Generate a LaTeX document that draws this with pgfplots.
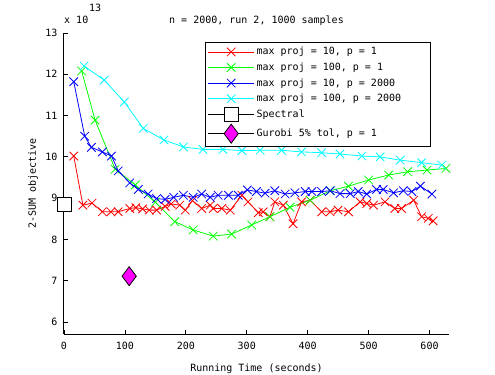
\documentclass[border=0pt]{standalone}
\usepackage{fontspec}
\setmainfont{DejaVu Sans Mono}
\usepackage{pgfplots}
\pgfplotsset{compat=1.18}

\definecolor{mred}{RGB}{255,0,0}
\definecolor{mgreen}{RGB}{0,255,0}
\definecolor{mblue}{RGB}{0,0,255}
\definecolor{mcyan}{RGB}{0,255,255}
\definecolor{mmagenta}{RGB}{255,0,255}

\newcommand\legtext[1]{\makebox[170bp][l]{#1}}

\begin{document}
\begin{tikzpicture}
\begin{axis}[
    name=ax,
    scale only axis,
    width=385bp, height=301bp,
    xmin=0, xmax=632, ymin=5.71, ymax=13,
    axis x line*=bottom, axis y line*=left,
    x axis line style={-}, y axis line style={-},
    axis line style={line width=1bp},
    xtick={0,100,...,600}, ytick={6,...,13},
    tick align=inside, major tick length=4bp,
    tick style={line width=0.8bp, black},
    font=\fontsize{10bp}{12bp}\selectfont,
    /pgf/number format/assume math mode=true,
    scaled y ticks=false,
    yticklabel style={xshift=-3bp},
    xticklabel style={yshift=-5bp},
    xlabel={Running Time (seconds)},
    ylabel={2-SUM objective},
    xlabel style={at={([yshift=-35bp]rel axis cs:0.5,0)}, anchor=center},
    ylabel style={at={([xshift=-31bp]rel axis cs:0,0.5)}, anchor=center},
    title={n = 2000, run 2, 1000 samples},
    every axis title shift=0pt,
    title style={at={([yshift=12bp]rel axis cs:0.5,1)}, anchor=center},
    clip=false,
    every axis plot/.append style={line width=0.8bp},
    legend cell align=left,
    legend style={at={(rel axis cs:1,1)}, anchor=north east,
        xshift=-18bp, yshift=-9bp, draw=black, line width=0.8bp,
        row sep=2.5bp, inner xsep=2bp, inner ysep=3bp},
    legend image code/.code={
        \draw[mark repeat=2, mark phase=2] plot coordinates {(0bp,0bp) (23bp,0bp) (46bp,0bp)};},
]
% max proj = 10, p = 1
\addplot[mred, mark=x, mark size=6bp] coordinates {
(16,10.02) (31,8.83) (46,8.88) (63,8.67) (77,8.67) (89,8.67) (108,8.75) (118,8.77)
(129,8.74) (140,8.71) (152,8.71) (166,8.80) (176,8.86) (190,8.83) (199,8.71) (211,8.94)
(226,8.75) (240,8.83) (245,8.75) (259,8.75) (273,8.71) (292,9.07) (302,8.91) (319,8.65)
(327,8.67) (338,8.55) (346,8.91) (360,8.83) (376,8.38) (390,8.91) (404,8.95) (423,8.67)
(437,8.67) (450,8.71) (467,8.67) (486,8.91) (497,8.87) (508,8.83) (527,8.91) (543,8.75)
(554,8.75) (574,8.95) (587,8.55) (598,8.51) (606,8.45)
};
\addlegendentry{\legtext{max proj = 10, p = 1}}
% max proj = 100, p = 1
\addplot[mgreen, mark=x, mark size=6bp] coordinates {
(29,12.08) (51,10.89) (84,9.70) (117,9.32) (150,8.90) (182,8.43) (212,8.23) (245,8.08)
(275,8.13) (308,8.35) (338,8.55) (371,8.78) (404,8.95) (437,9.18) (467,9.29) (500,9.44)
(533,9.56) (564,9.64) (596,9.68) (627,9.72)
};
\addlegendentry{\legtext{max proj = 100, p = 1}}
% max proj = 10, p = 2000
\addplot[mblue, mark=x, mark size=6bp] coordinates {
(16,11.82) (34,10.50) (45,10.23) (63,10.12) (78,10.02) (89,9.66) (108,9.37) (122,9.21)
(138,9.10) (152,8.99) (166,8.97) (180,9.02) (196,9.07) (212,9.02) (226,9.10) (240,9.02)
(253,9.07) (270,9.07) (286,9.07) (301,9.20) (316,9.16) (330,9.12) (346,9.18) (363,9.10)
(379,9.13) (396,9.16) (407,9.16) (423,9.16) (437,9.18) (453,9.11) (470,9.11) (483,9.16)
(497,9.10) (513,9.21) (524,9.21) (541,9.13) (557,9.18) (571,9.16) (585,9.29) (604,9.10)
};
\addlegendentry{\legtext{max proj = 10, p = 2000}}
% max proj = 100, p = 2000
\addplot[mcyan, mark=x, mark size=6bp] coordinates {
(33,12.20) (66,11.86) (99,11.33) (130,10.69) (164,10.41) (196,10.24) (228,10.18) (261,10.18)
(292,10.15) (322,10.16) (357,10.16) (390,10.12) (423,10.10) (453,10.07) (489,10.02) (519,10.00)
(552,9.92) (587,9.86) (620,9.80)
};
\addlegendentry{\legtext{max proj = 100, p = 2000}}
% Spectral
\addplot[black, mark=square*, mark size=7bp, mark options={fill=white, draw=black}] coordinates {(0,8.86)};
\addlegendentry{\legtext{Spectral}}
% Gurobi
\addplot[black, mark=diamond*, mark size=9.5bp, mark options={fill=mmagenta, draw=black}] coordinates {(107,7.11)};
\addlegendentry{\legtext{Gurobi 5\% tol, p = 1}}
\node[anchor=west, inner sep=0pt] at ([yshift=13bp]rel axis cs:0,1) {x 10};
\node[anchor=west, inner sep=0pt] at ([xshift=25bp, yshift=25bp]rel axis cs:0,1) {13};
\end{axis}
\pgfresetboundingbox
\path[use as bounding box] ([xshift=-64bp, yshift=-41bp]ax.south west) rectangle ([xshift=46bp, yshift=33bp]ax.north east);
\end{tikzpicture}
\end{document}
